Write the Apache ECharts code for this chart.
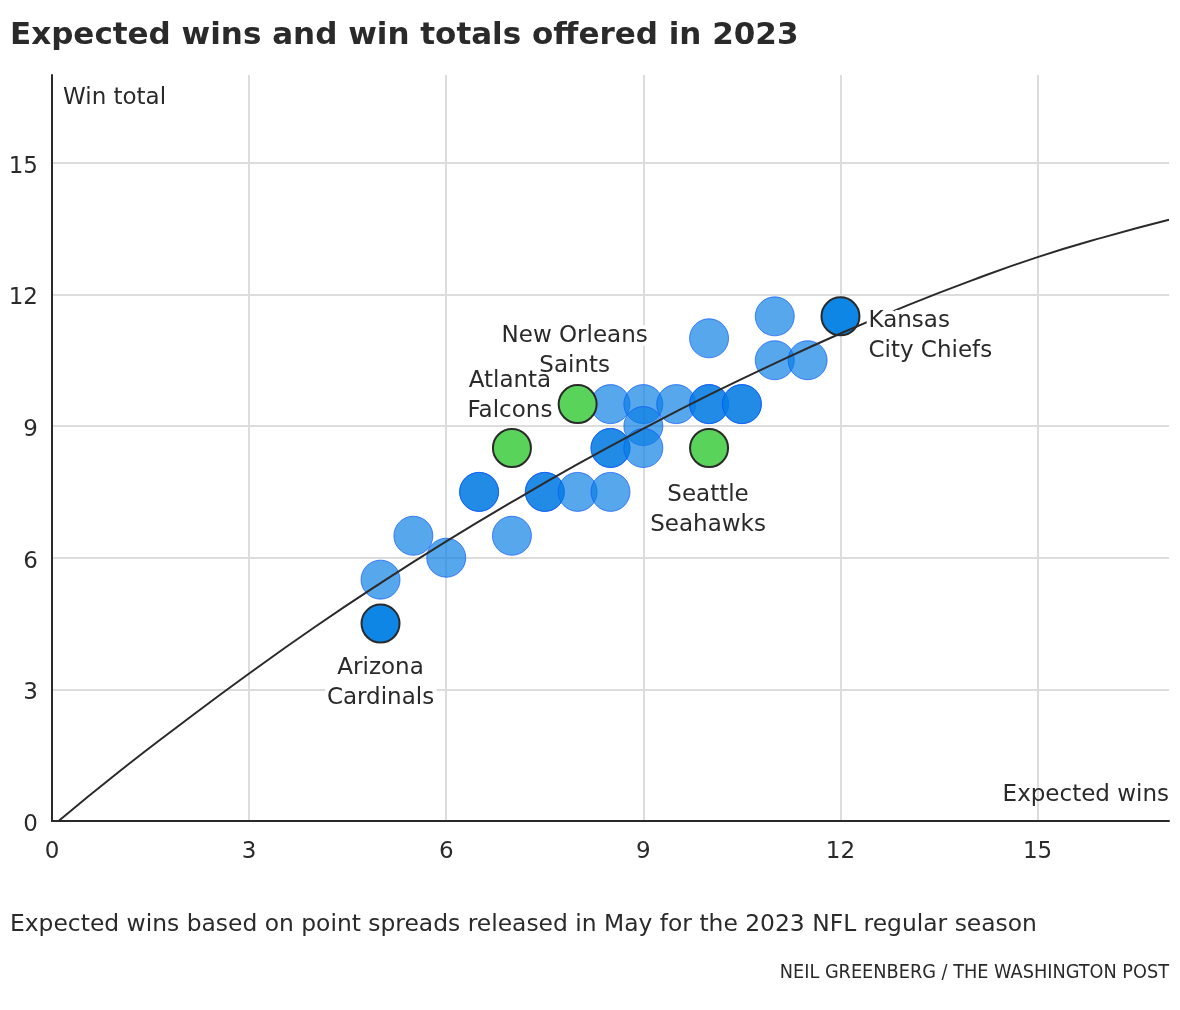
<!DOCTYPE html>
<html>
<head>
<meta charset="utf-8">
<script src="https://cdn.jsdelivr.net/npm/echarts@6/dist/echarts.min.js"></script>
<style>
html,body{margin:0;padding:0;background:#fff;}
#chart{width:1180px;height:1010px;}
</style>
</head>
<body>
<div id="chart"></div>
<script>
// ---- data ----
const otherExpected = [5, 5.5, 6, 6.5, 6.5, 7, 7.5, 7.5, 8, 8.5, 8.5, 8.5, 8.5, 9, 9, 9, 9.5, 10, 10, 10, 10.5, 10.5, 11, 11, 11.5];
const otherWinTotal = [5.5, 6.5, 6, 7.5, 7.5, 6.5, 7.5, 7.5, 7.5, 7.5, 8.5, 8.5, 9.5, 9.5, 9, 8.5, 9.5, 11, 9.5, 9.5, 9.5, 9.5, 11.5, 10.5, 10.5];

const blueTeams = ['Arizona\nCardinals', 'Kansas\nCity Chiefs'];
const blueExpected = [5, 12];
const blueWinTotal = [4.5, 11.5];

const greenTeams = ['Atlanta\nFalcons', 'New Orleans\nSaints', 'Seattle\nSeahawks'];
const greenExpected = [7, 8, 10];
const greenWinTotal = [8.5, 9.5, 8.5];

const curveX = [0.1, 1, 2, 3, 4, 5, 6, 7, 8, 9, 10, 11, 12, 13, 14, 15, 16, 17];
const curveY = [0, 1.1, 2.25, 3.36, 4.42, 5.42, 6.37, 7.27, 8.13, 8.94, 9.71, 10.43, 11.11, 11.74, 12.32, 12.85, 13.3, 13.7];

const xTickLabels = [0, 3, 6, 9, 12, 15];
const yTickLabels = [0, 3, 6, 9, 12, 15];

const FONT = '"DejaVu Sans", "Noto Sans", sans-serif';
const NARROW = '"Liberation Sans Narrow", "DejaVu Sans Condensed", sans-serif';
const TXT = '#2a2a2a';
const FS = 23;

const pairs = (xs, ys) => xs.map((x, i) => [x, ys[i]]);
const named = (names, xs, ys) => names.map((n, i) => ({ name: n, value: [xs[i], ys[i]] }));

// label placements (offsets in px relative to the point)
const labelPlacement = {
  'Arizona\nCardinals': { align: 'center', offset: [0, 60] },
  'Kansas\nCity Chiefs': { align: 'left', offset: [28, 20] },
  'Atlanta\nFalcons': { align: 'center', offset: [-2, -52] },
  'New Orleans\nSaints': { align: 'center', offset: [-3, -53] },
  'Seattle\nSeahawks': { align: 'center', offset: [-1, 62] }
};

const chart = echarts.init(document.getElementById('chart'), null, { renderer: 'canvas' });

const axisLabelStyle = { fontSize: FS, color: TXT, fontFamily: FONT };

const baseGraphic = [
  { type: 'text', z: 100, style: { text: 'Expected wins and win totals offered in 2023', x: 10, y: 36, fontSize: 31, fontWeight: 'bold', fontFamily: FONT, fill: TXT, align: 'left', verticalAlign: 'middle' } },
  { type: 'text', z: 100, style: { text: 'Win total', x: 63, y: 98, fontSize: FS, fontFamily: FONT, fill: TXT, align: 'left', verticalAlign: 'middle' } },
  { type: 'text', z: 100, style: { text: 'Expected wins', x: 1169, y: 795.5, fontSize: FS, fontFamily: FONT, fill: TXT, align: 'right', verticalAlign: 'middle' } },
  { type: 'text', z: 100, style: { text: 'Expected wins based on point spreads released in May for the 2023 NFL regular season', x: 10, y: 925, fontSize: 23.4, fontFamily: FONT, fill: TXT, align: 'left', verticalAlign: 'middle' } },
  { type: 'text', z: 100, style: { text: 'NEIL GREENBERG / THE WASHINGTON POST', x: 1169, y: 973, fontSize: 19.7, fontFamily: NARROW, fill: TXT, align: 'right', verticalAlign: 'middle' } }
];

chart.setOption({
  animation: false,
  backgroundColor: '#fff',
  textStyle: { fontFamily: FONT },
  grid: { left: 52, right: 11, top: 75, bottom: 189, containLabel: false },
  xAxis: {
    type: 'value', min: 0, max: 17, interval: 3,
    axisLine: { show: true, onZero: false, lineStyle: { color: '#2a2a2a', width: 2 } },
    axisTick: { show: false },
    splitLine: { show: true, showMinLine: false, showMaxLine: false, lineStyle: { color: '#dcdcdc', width: 2 } },
    axisLabel: Object.assign({ margin: 19.5, formatter: v => xTickLabels.includes(v) ? String(v) : '' }, axisLabelStyle)
  },
  yAxis: {
    type: 'value', min: 0, max: 17, interval: 3,
    axisLine: { show: true, onZero: false, lineStyle: { color: '#2a2a2a', width: 2 } },
    axisTick: { show: false },
    splitLine: { show: true, showMinLine: false, showMaxLine: false, lineStyle: { color: '#dcdcdc', width: 2 } },
    axisLabel: Object.assign({
      margin: 14,
      formatter: v => yTickLabels.includes(v) ? '{t|' + v + '}' : '',
      rich: { t: { fontSize: FS, color: TXT, fontFamily: FONT, padding: [8, 0, 0, 0] } }
    }, axisLabelStyle)
  },
  graphic: baseGraphic,
  series: [
    {
      name: 'Other teams', type: 'scatter', z: 2,
      symbolSize: 39,
      data: pairs(otherExpected, otherWinTotal),
      itemStyle: { color: '#087ee3', opacity: 0.68, borderColor: '#0a55ff', borderWidth: 1 }
    },
    {
      name: 'Blue highlighted', type: 'scatter', z: 3,
      symbolSize: 38,
      data: named(blueTeams, blueExpected, blueWinTotal),
      itemStyle: { color: '#0e86e5', opacity: 1, borderColor: '#2a2a2a', borderWidth: 2 }
    },
    {
      name: 'Green highlighted', type: 'scatter', z: 3,
      symbolSize: 38,
      data: named(greenTeams, greenExpected, greenWinTotal),
      itemStyle: { color: '#5ad35a', opacity: 1, borderColor: '#2a2a2a', borderWidth: 2 }
    },
    {
      name: 'Curve', type: 'line', z: 4,
      data: pairs(curveX, curveY),
      smooth: true, showSymbol: false, symbol: 'none',
      lineStyle: { color: '#2a2a2a', width: 2 }
    }
  ]
});

// team labels, anchored to the points through the chart's own scales
const labelNames = blueTeams.concat(greenTeams);
const labelX = blueExpected.concat(greenExpected);
const labelY = blueWinTotal.concat(greenWinTotal);
const teamGraphics = [];
labelNames.forEach((name, i) => {
  const p = chart.convertToPixel({ gridIndex: 0 }, [labelX[i], labelY[i]]);
  const pl = labelPlacement[name];
  const common = {
    text: name, x: p[0] + pl.offset[0], y: p[1] + pl.offset[1],
    fontSize: FS, lineHeight: 30, fontFamily: FONT,
    align: pl.align, verticalAlign: 'middle'
  };
  teamGraphics.push({ type: 'text', z: 110, silent: true, style: Object.assign({ fill: '#fff', stroke: '#fff', lineWidth: 8 }, common) });
  teamGraphics.push({ type: 'text', z: 111, silent: true, style: Object.assign({ fill: TXT }, common) });
});
chart.setOption({ graphic: baseGraphic.concat(teamGraphics) });
</script>
</body>
</html>
